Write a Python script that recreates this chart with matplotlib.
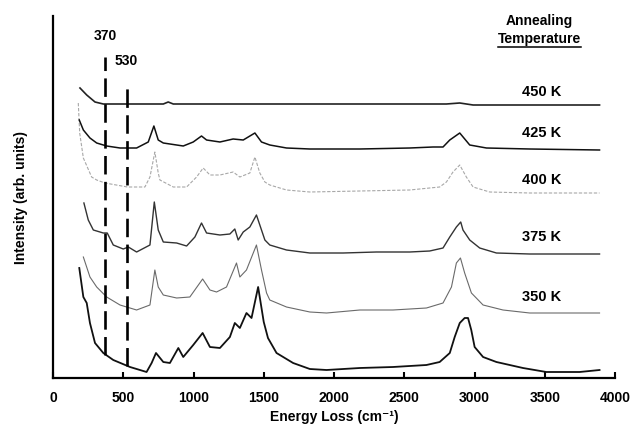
import matplotlib
matplotlib.use("Agg")
import matplotlib.pyplot as plt

plt.rcParams['font.family'] = ['Liberation Sans', 'DejaVu Sans']
plt.rcParams['font.weight'] = 'bold'

# ---- data (energy loss in cm^-1, intensity in arb. units) ----
x_base = [187, 216, 240, 263, 299, 358, 429, 548, 666, 702, 733, 785, 832, 892, 927, 998,
          1065, 1117, 1188, 1259, 1294, 1330, 1377, 1413, 1460, 1500, 1530, 1591, 1709, 1828,
          1947, 2184, 2420, 2658, 2752, 2824, 2859, 2895, 2930, 2954, 2977, 3001, 3061, 3156,
          3345, 3511, 3748, 3890]
y_base = [110, 81, 75, 55, 35, 25, 18, 11, 6, 15, 25, 16, 15, 30, 21, 33,
          45, 31, 30, 41, 55, 50, 65, 60, 91, 56, 40, 25, 15, 9,
          8, 10, 11, 13, 16, 25, 41, 55, 60, 60, 48, 31, 21, 16,
          10, 6, 6, 8]

x_350 = [216, 263, 311, 382, 477, 595, 690, 725, 749, 785, 880, 974, 1065, 1117, 1164, 1235,
         1306, 1330, 1377, 1448, 1484, 1520, 1543, 1662, 1828, 1947, 2184, 2420, 2658, 2776,
         2836, 2871, 2900, 2930, 2978, 3061, 3203, 3393, 3630, 3890]
y_350 = [121, 101, 91, 81, 73, 68, 73, 108, 91, 83, 80, 81, 99, 88, 86, 91,
         115, 101, 108, 133, 108, 85, 78, 71, 66, 65, 68, 68, 70, 75,
         91, 115, 120, 105, 85, 73, 68, 65, 65, 65]

x_375 = [220, 251, 287, 358, 386, 429, 500, 536, 595, 690, 721, 749, 785, 880, 951, 1010,
         1057, 1093, 1188, 1259, 1294, 1318, 1354, 1401, 1448, 1484, 1508, 1543, 1662, 1828,
         2065, 2302, 2539, 2681, 2776, 2824, 2871, 2902, 2918, 2966, 3037, 3156, 3393, 3890]
y_375 = [175, 158, 148, 145, 145, 133, 129, 131, 126, 133, 176, 148, 136, 135, 132, 141,
         155, 145, 143, 144, 149, 138, 146, 151, 163, 148, 138, 133, 128, 125,
         125, 126, 126, 127, 130, 141, 151, 156, 148, 138, 130, 125, 124, 124]

x_400 = [180, 190, 216, 275, 311, 370, 530, 654, 690, 725, 749, 761, 856, 951, 1022, 1069,
         1117, 1188, 1282, 1330, 1401, 1437, 1472, 1508, 1543, 1662, 1828, 2184, 2539, 2752,
         2800, 2847, 2895, 2942, 2990, 3108, 3393, 3890]
y_400 = [275, 245, 220, 201, 198, 195, 191, 191, 201, 226, 205, 198, 191, 191, 201, 210,
         203, 203, 206, 201, 205, 221, 205, 196, 193, 188, 186, 187, 188, 191,
         196, 206, 213, 201, 191, 186, 185, 185]

x_425 = [187, 216, 263, 311, 382, 477, 595, 678, 718, 749, 785, 927, 998, 1057, 1093, 1188,
         1282, 1354, 1437, 1484, 1543, 1662, 1828, 2184, 2539, 2705, 2776, 2824, 2895, 2966,
         3085, 3393, 3890]
y_425 = [258, 248, 240, 235, 232, 230, 230, 236, 252, 238, 235, 232, 236, 242, 238, 236,
         239, 238, 245, 236, 233, 230, 229, 229, 230, 231, 231, 238, 245, 233,
         230, 229, 228]

x_450 = [192, 240, 299, 358, 595, 785, 820, 856, 1543, 2800, 2895, 2990, 3890]
y_450 = [290, 283, 276, 274, 274, 274, 276, 274, 274, 274, 275, 273, 273]

temp_labels = ["450 K", "425 K", "400 K", "375 K", "350 K"]
temp_label_y = [286, 245, 198, 141, 81]
marker_positions = [370, 530]
marker_tops = [321, 294]
marker_bottoms = [23, 12]
xticks = [0, 500, 1000, 1500, 2000, 2500, 3000, 3500, 4000]

# ---- figure ----
fig = plt.figure(figsize=(6.33, 4.33), dpi=100)
ax = fig.add_axes([53/633, 1 - 378/433, 562/633, 362/433])

ax.plot(x_base, y_base, color='#111111', lw=1.3)
ax.plot(x_350, y_350, color='#6a6a6a', lw=0.8)
ax.plot(x_375, y_375, color='#333333', lw=1.0)
ax.plot(x_400, y_400, color='#a8a8a8', lw=0.8, linestyle=(0, (3, 1.5)))
ax.plot(x_425, y_425, color='#111111', lw=1.1)
ax.plot(x_450, y_450, color='#222222', lw=1.2)

for xp, yt, yb in zip(marker_positions, marker_tops, marker_bottoms):
    ax.plot([xp, xp], [yb, yt], color='black', lw=1.9, linestyle=(0, (7, 2.8)))

ax.text(370, 342, "370", ha='center', va='center', fontsize=10, fontweight='bold')
ax.text(519, 317, "530", ha='center', va='center', fontsize=10, fontweight='bold')

for lab, yy in zip(temp_labels, temp_label_y):
    ax.text(3480, yy, lab, ha='center', va='center', fontsize=10.5, fontweight='bold')

ax.text(3464, 357, "Annealing", ha='center', va='center', fontsize=10, fontweight='bold')
t = ax.text(3464, 339, "Temperature", ha='center', va='center', fontsize=10, fontweight='bold')

ax.set_xlim(0, 4000)
ax.set_ylim(0, 362)
ax.set_xticks(xticks)
ax.set_xticklabels([str(v) for v in xticks], fontsize=10, fontweight='bold')
ax.set_yticks([])
ax.tick_params(axis='x', direction='in', length=4, width=1.5, pad=9)
for s in ['top', 'right']:
    ax.spines[s].set_visible(False)
ax.spines['bottom'].set_linewidth(1.6)
ax.spines['left'].set_linewidth(1.6)

ax.set_xlabel("Energy Loss (cm\u207b\u00b9)", fontsize=10, fontweight='bold', labelpad=4)
ax.set_ylabel("Intensity (arb. units)", fontsize=10, fontweight='bold', labelpad=18)

# underline for "Temperature"
fig.canvas.draw()
bb = t.get_window_extent(renderer=fig.canvas.get_renderer())
inv = ax.transData.inverted()
(x0, y0) = inv.transform((bb.x0, bb.y0 - 1))
(x1, _) = inv.transform((bb.x1, bb.y0 - 1))
ax.plot([x0, x1], [y0, y0], color='black', lw=1.1, clip_on=False)

fig.savefig("out.png", dpi=100)
